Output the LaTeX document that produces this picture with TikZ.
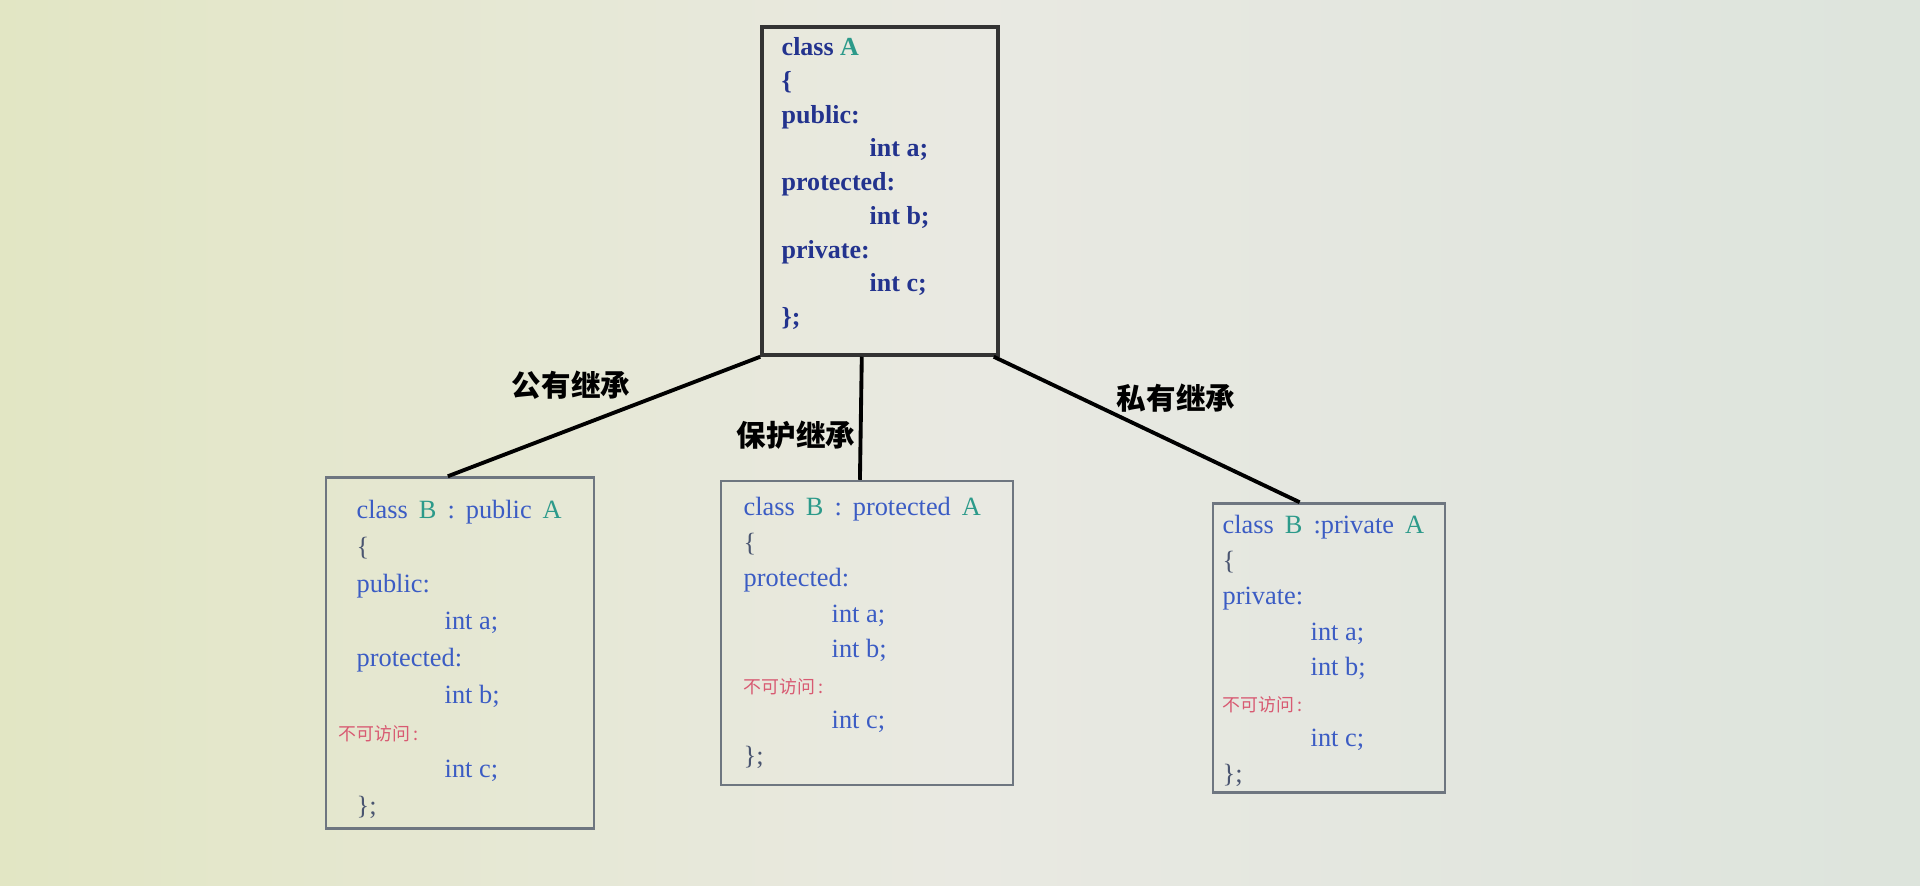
\documentclass[tikz,border=0pt]{standalone}
\usepackage{fontspec}
\setmainfont{Liberation Serif}
\newfontfamily\cjk{Noto Sans CJK SC}
\usetikzlibrary{calc}

\definecolor{bgleft}{HTML}{E2E6C4}
\definecolor{bgmid}{HTML}{E9E9E2}
\definecolor{bgright}{HTML}{DDE4DC}
\definecolor{navy}{HTML}{23338E}
\definecolor{codeblue}{HTML}{3B5CC4}
\definecolor{teal}{HTML}{2C9A8A}
\definecolor{deny}{HTML}{D85A72}
\definecolor{boxgray}{HTML}{6E7680}
\definecolor{brace}{HTML}{4A5570}

\newcommand{\ind}{\hspace*{8.8mm}}
\newcommand{\gap}{\hspace{1.1mm}}
\newcommand{\noaccess}{{\color{deny}\cjk\fontsize{5.1}{7}\selectfont 不可访问\,:}}

\begin{document}
\begin{tikzpicture}[x=0.1mm,y=-0.1mm,
  box/.style={draw=boxgray, line width=0.7pt, inner sep=0pt},
  code/.style={anchor=north west, inner sep=0pt, align=left, text=codeblue},
  link/.style={line width=1.1pt},
  lab/.style={font=\cjk\bfseries\fontsize{8.4}{10}\selectfont}]
\shade[left color=bgleft, right color=bgright, middle color=bgmid] (0,0) rectangle (1920,886);

% base class
\node [box, draw=black!80, line width=1pt, minimum width=23.6mm, minimum height=32.8mm] (A) at (880,191) {};
\node [code, text=navy, font=\bfseries\fontsize{7.4}{9.6}\selectfont] (Atext) at (781,37)
  {class {\color{teal}A}\\ \{\\ public:\\ \ind int a;\\ protected:\\ \ind int b;\\ private:\\ \ind int c;\\ \};};

% derived classes
\node [box, minimum width=26.8mm, minimum height=35.1mm] (B1) at (460,653) {};
\node [code, font=\fontsize{7.5}{10.5}\selectfont] (B1text) at (356,500)
  {class\gap{\color{teal}B}\gap:\gap public\gap{\color{teal}A}\\ {\color{brace}\{}\\ public:\\ \ind int a;\\ protected:\\ \ind int b;\\ \hspace*{-1.8mm}\noaccess\\ \ind int c;\\ {\color{brace}\};}};

\node [box, minimum width=29.2mm, minimum height=30.4mm] (B2) at (867,633) {};
\node [code, font=\fontsize{7.5}{10.1}\selectfont] (B2text) at (743,497)
  {class\gap{\color{teal}B}\gap:\gap protected\gap{\color{teal}A}\\ {\color{brace}\{}\\ protected:\\ \ind int a;\\ \ind int b;\\ \noaccess\\ \ind int c;\\ {\color{brace}\};}};

\node [box, minimum width=23.2mm, minimum height=28.9mm] (B3) at (1329,648) {};
\node [code, font=\fontsize{7.5}{10.1}\selectfont] (B3text) at (1222,515)
  {class\gap{\color{teal}B}\gap:private\gap{\color{teal}A}\\ {\color{brace}\{}\\ private:\\ \ind int a;\\ \ind int b;\\ \noaccess\\ \ind int c;\\ {\color{brace}\};}};

% inheritance links
\draw [link] (A.south west) -- ($(B1.north west)!0.455!(B1.north east)$);
\draw [link] ($(A.south west)!0.424!(A.south east)$) -- ($(B2.north west)!0.476!(B2.north east)$);
\draw [link] ($(A.south west)!0.975!(A.south east)$) -- ($(B3.north west)!0.375!(B3.north east)$);

\node [lab] (pub) at (571,385) {公有继承};
\node [lab] (pro) at (796,435) {保护继承};
\node [lab] (pri) at (1176,398) {私有继承};
\end{tikzpicture}
\end{document}
